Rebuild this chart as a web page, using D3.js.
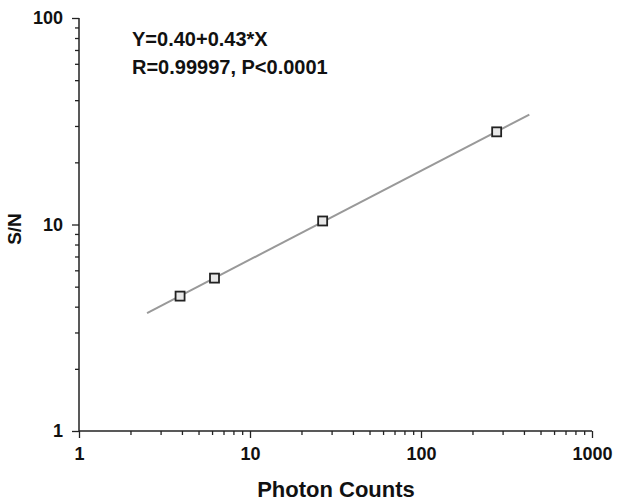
<!DOCTYPE html>
<html><head><meta charset="utf-8">
<script src="https://cdn.jsdelivr.net/npm/d3@7"></script>
<style>body{margin:0;background:#fff}svg{display:block}text{font-family:"Liberation Sans",Arial,sans-serif;font-weight:bold;fill:#111}</style>
</head><body>
<svg id="c" width="624" height="504"></svg>
<script>
const photonCounts = [3.9, 6.2, 26.6, 277];
const snValues = [4.5, 5.5, 10.4, 28.1];
const fitIntercept = 0.40, fitSlope = 0.43;
const fitRange = [2.5, 430];
const xTicks = [1, 10, 100, 1000];
const yTicks = [1, 10, 100];
const annotations = ["Y=0.40+0.43*X", "R=0.99997, P<0.0001"];

const svg = d3.select("#c");
const x = d3.scaleLog().domain([1, 1000]).range([79, 592]);
const y = d3.scaleLog().domain([1, 100]).range([431, 18]);

function minor(dom){const a=[];for(let d=dom[0];d<dom[1];d*=10)for(let k=2;k<=9;k++)a.push(d*k);return a;}

// X axis
const gx = svg.append("g").attr("transform","translate(0,431)");
gx.call(d3.axisBottom(x).tickValues(xTicks).tickFormat(d3.format("d")).tickSize(7).tickPadding(9));
gx.append("g").call(d3.axisBottom(x).tickValues(minor([1,1000])).tickFormat("").tickSize(4)).select(".domain").remove();
gx.select(".domain").attr("d","M79,0H592").attr("stroke","#222").attr("stroke-width",1.5);
gx.selectAll(".tick line").attr("stroke","#222").attr("stroke-width",1.3);
gx.selectAll(".tick text").style("font-size","18px").attr("fill","#111");

// Y axis
const gy = svg.append("g").attr("transform","translate(79,0)");
gy.call(d3.axisLeft(y).tickValues(yTicks).tickFormat(d3.format("d")).tickSize(7).tickPadding(9));
gy.append("g").call(d3.axisLeft(y).tickValues(minor([1,100])).tickFormat("").tickSize(4)).select(".domain").remove();
gy.select(".domain").attr("d","M0,431V18").attr("stroke","#222").attr("stroke-width",1.5);
gy.selectAll(".tick line").attr("stroke","#222").attr("stroke-width",1.3);
gy.selectAll(".tick text").style("font-size","18px").attr("fill","#111");

// Fit line
const fitPts = fitRange.map(v => [v, Math.pow(10, fitIntercept + fitSlope*Math.log10(v))]);
svg.append("path").attr("d", d3.line().x(d=>x(d[0])).y(d=>y(d[1]))(fitPts))
  .attr("stroke","#999").attr("stroke-width",2).attr("fill","none");

// Points
const s = 9;
svg.selectAll("rect.pt").data(photonCounts).join("rect").attr("class","pt")
  .attr("x",(d)=>x(d)-s/2).attr("y",(d,i)=>y(snValues[i])-s/2)
  .attr("width",s).attr("height",s).attr("fill","#e8e8e8").attr("stroke","#222").attr("stroke-width",1.8);

// Annotations
svg.selectAll("text.ann").data(annotations).join("text").attr("class","ann")
  .attr("x",132).attr("y",(d,i)=>46+i*28).style("font-size","20px").text(d=>d);

// Axis titles
svg.append("text").attr("x",336).attr("y",497).attr("text-anchor","middle").style("font-size","22px").text("Photon Counts");
svg.append("text").attr("transform","translate(21,229) rotate(-90)").attr("text-anchor","middle").style("font-size","19px").text("S/N");
</script>
</body></html>
